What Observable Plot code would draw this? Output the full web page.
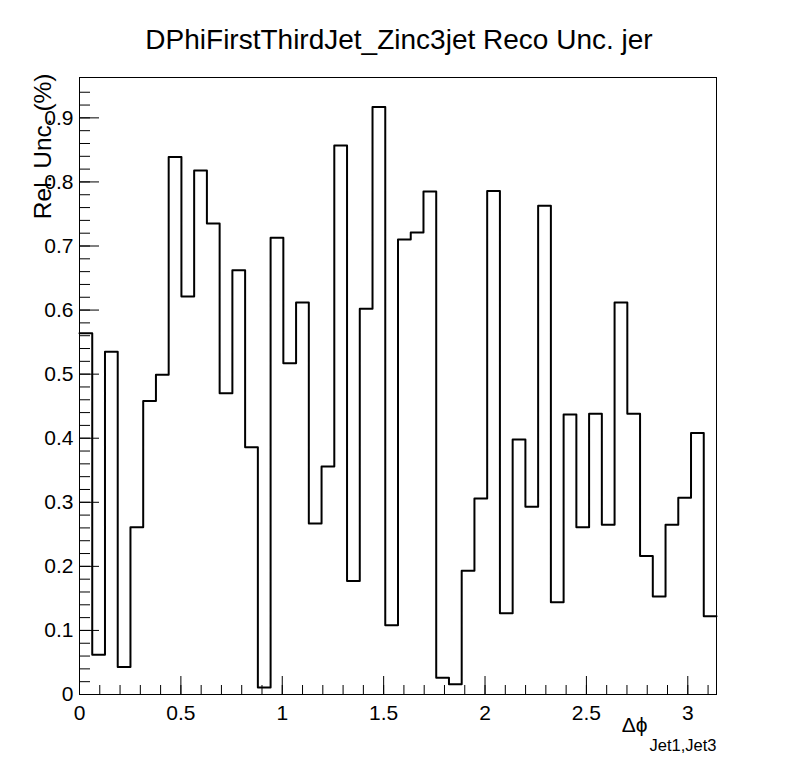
<!DOCTYPE html>
<html><head><meta charset="utf-8">
<script src="https://cdn.jsdelivr.net/npm/d3@7"></script>
<script src="https://cdn.jsdelivr.net/npm/@observablehq/plot@0.6"></script>
<style>body{margin:0;background:#fff} svg{display:block}</style>
</head><body><div id="chart"></div>
<script>
const title = "DPhiFirstThirdJet_Zinc3jet Reco Unc. jer";
const yTitle = "Rel. Unc. (%)";
const xTitleMain = "\u0394\u03D5";
const xTitleSub = "Jet1,Jet3";
const binLow = 0, binHigh = Math.PI, nBins = 50;
const values = [
  0.564, 0.062, 0.535, 0.043, 0.261, 0.458, 0.499, 0.839, 0.621, 0.818,
  0.735, 0.470, 0.662, 0.386, 0.011, 0.713, 0.517, 0.612, 0.267, 0.356,
  0.857, 0.177, 0.602, 0.917, 0.108, 0.710, 0.721, 0.785, 0.026, 0.016,
  0.193, 0.306, 0.786, 0.127, 0.398, 0.293, 0.763, 0.144, 0.437, 0.261,
  0.438, 0.265, 0.612, 0.438, 0.216, 0.153, 0.265, 0.307, 0.408, 0.122
];
const yMax = 0.963;
const yMajorTicks = [0, 0.1, 0.2, 0.3, 0.4, 0.5, 0.6, 0.7, 0.8, 0.9];
const yTickLabels = ["0", "0.1", "0.2", "0.3", "0.4", "0.5", "0.6", "0.7", "0.8", "0.9"];
const yMinorTicks = d3.range(0, 48).map(i => i * 0.02);
const xMajorTicks = [0, 0.5, 1, 1.5, 2, 2.5, 3];
const xTickLabels = ["0", "0.5", "1", "1.5", "2", "2.5", "3"];
const xMinorTicks = d3.range(0, 32).map(i => i * 0.1);

const binW = (binHigh - binLow) / nBins;
const pts = values.map((v, i) => ({x: binLow + i * binW, y: v}));
pts.push({x: binHigh, y: values[values.length - 1]});

const chart = Plot.plot({
  width: 796, height: 772,
  marginLeft: 79, marginRight: 80, marginTop: 77, marginBottom: 78,
  style: {fontFamily: "'Liberation Sans', Arial, Helvetica, sans-serif", background: "#fff", color: "#000"},
  x: {domain: [binLow, binHigh], label: null},
  y: {domain: [0, yMax], label: null},
  marks: [
    Plot.axisY({ticks: yMinorTicks, tickSize: -11, tickFormat: () => "", label: null}),
    Plot.axisY({ticks: yMajorTicks, tickSize: -20, tickPadding: 26, fontSize: 21,
      tickFormat: d => yTickLabels[yMajorTicks.indexOf(d)], label: null}),
    Plot.axisX({ticks: xMinorTicks, tickSize: -9, tickFormat: () => "", label: null}),
    Plot.axisX({ticks: xMajorTicks, tickSize: -18, tickPadding: 29, fontSize: 21,
      tickFormat: d => xTickLabels[xMajorTicks.indexOf(d)], label: null}),
    Plot.line(pts, {x: "x", y: "y", curve: "step-after", stroke: "#000", strokeWidth: 2}),
    Plot.frame({stroke: "#000", strokeWidth: 1}),
    Plot.text([title], {frameAnchor: "top", dy: -48.7, dx: 1, fontSize: 28}),
    Plot.text([yTitle], {frameAnchor: "top-left", rotate: -90, textAnchor: "end", dx: -45.8, dy: -4, fontSize: 24.5}),
    Plot.text([xTitleMain], {frameAnchor: "bottom-right", textAnchor: "end", dx: -69, dy: 37, fontSize: 21}),
    Plot.text([xTitleSub], {frameAnchor: "bottom-right", textAnchor: "end", dx: 0, dy: 56, fontSize: 16.5})
  ]
});
document.getElementById("chart").append(chart);
</script>
</body></html>
